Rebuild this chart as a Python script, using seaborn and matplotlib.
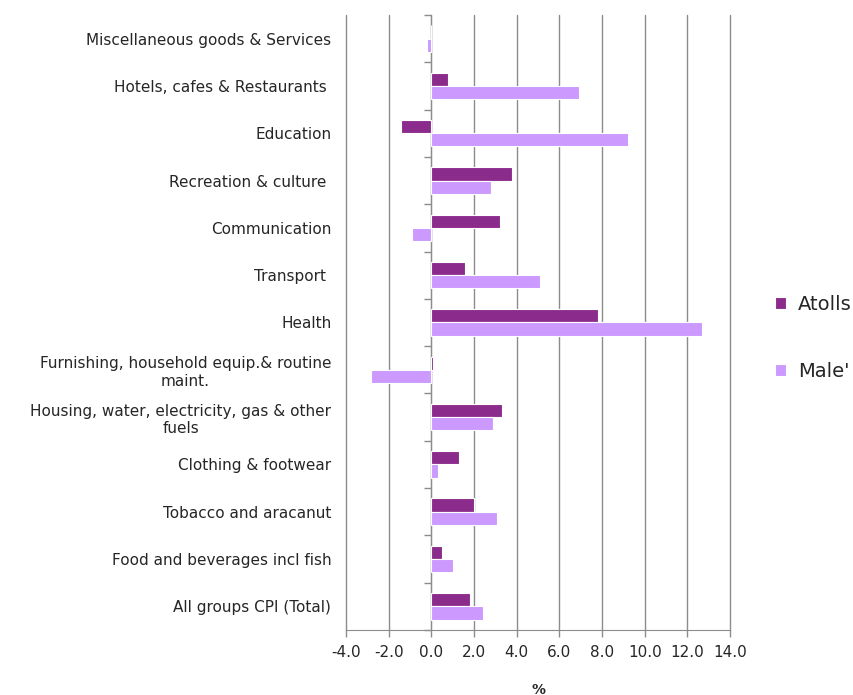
import matplotlib
matplotlib.use("Agg")
import matplotlib.pyplot as plt
from matplotlib.ticker import FixedLocator, FormatStrFormatter
import seaborn as sns
import pandas as pd

# Expenditure groups, listed top to bottom
categories = [
    "Miscellaneous goods & Services",
    "Hotels, cafes & Restaurants ",
    "Education",
    "Recreation & culture ",
    "Communication",
    "Transport ",
    "Health",
    "Furnishing, household equip.& routine\nmaint.",
    "Housing, water, electricity, gas & other\nfuels",
    "Clothing & footwear",
    "Tobacco and aracanut",
    "Food and beverages incl fish",
    "All groups CPI (Total)",
]
atolls = [0.0, 0.8, -1.4, 3.8, 3.2, 1.6, 7.8, 0.1, 3.3, 1.3, 2.0, 0.5, 1.8]
male = [-0.2, 6.9, 9.2, 2.8, -0.9, 5.1, 12.7, -2.8, 2.9, 0.3, 3.1, 1.0, 2.4]
series = ["Atolls", "Male'"]
x_ticks = [-4.0, -2.0, 0.0, 2.0, 4.0, 6.0, 8.0, 10.0, 12.0, 14.0]
x_label = "%"

df = pd.DataFrame({
    "category": categories * 2,
    "series": [series[0]] * len(categories) + [series[1]] * len(categories),
    "value": atolls + male,
})

sns.set_style("white")
plt.rcParams["font.family"] = ["DejaVu Sans"]

fig = plt.figure(figsize=(8.54, 6.95), dpi=100)
ax = fig.add_axes([0.405, 0.0935, 0.45, 0.885])

palette = {"Atolls": "#8B2C8C", "Male'": "#CC99FF"}
sns.barplot(data=df, x="value", y="category", hue="series", order=categories,
            hue_order=series, palette=palette, orient="h", width=0.56,
            edgecolor="white", linewidth=0.8, saturation=1, ax=ax, zorder=3)

# x axis
ax.set_xlim(x_ticks[0], x_ticks[-1])
ax.set_xticks(x_ticks)
ax.xaxis.set_major_formatter(FormatStrFormatter("%.1f"))
ax.xaxis.grid(True, color="#8c8c8c", linewidth=1.0, zorder=0)
for gl in ax.get_xgridlines():
    gl.set_clip_on(False)
ax.yaxis.grid(False)
ax.set_xlabel(x_label, fontsize=10, fontweight="bold", labelpad=16)
ax.tick_params(axis="x", which="major", length=5, width=1, color="#8c8c8c",
               direction="out", labelsize=11, pad=6, bottom=True)

# category axis sits at zero
ax.set_ylim(len(categories) - 0.5, -0.5)
ax.spines["left"].set_position(("data", 0))
ax.spines["left"].set_color("#8c8c8c")
ax.spines["bottom"].set_color("#8c8c8c")
ax.spines["top"].set_visible(False)
ax.spines["right"].set_visible(False)
ax.set_ylabel("")
ax.tick_params(axis="y", which="major", length=0, labelsize=11, pad=72)
for lbl in ax.get_yticklabels():
    lbl.set_multialignment("center")
ax.yaxis.set_minor_locator(FixedLocator([i - 0.5 for i in range(len(categories) + 1)]))
ax.tick_params(axis="y", which="minor", length=5, width=1, color="#8c8c8c",
               direction="out", left=True)

# legend at the right
handles, labels = ax.get_legend_handles_labels()
ax.legend(handles, labels, loc="center left", bbox_to_anchor=(1.07, 0.475),
          frameon=False, fontsize=14, handlelength=0.6, handleheight=0.6,
          labelspacing=2.5, handletextpad=0.6)

fig.savefig("out.png", dpi=100)
